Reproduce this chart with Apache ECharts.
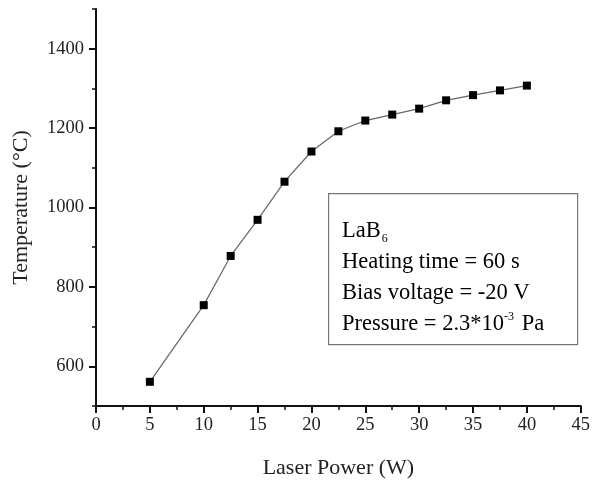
<!DOCTYPE html>
<html>
<head>
<meta charset="utf-8">
<script src="https://cdn.jsdelivr.net/npm/echarts@6/dist/echarts.min.js"></script>
<style>
  html, body { margin: 0; padding: 0; background: #fff; }
  #chart { width: 593px; height: 484px; }
</style>
</head>
<body>
<div id="chart"></div>
<script>
// Laser power (W) and resulting LaB6 temperature (°C)
const laserPower = [5, 10, 12.5, 15, 17.5, 20, 22.5, 25, 27.5, 30, 32.5, 35, 37.5, 40];
const temperature = [561, 754, 878, 969, 1065, 1141, 1192, 1219, 1234, 1249, 1270, 1283, 1295, 1307];

// Labelled (major) ticks
const xTicks = [0, 5, 10, 15, 20, 25, 30, 35, 40, 45];
const yTicks = [600, 800, 1000, 1200, 1400];

const FONT = '"Liberation Serif", "DejaVu Serif", serif';
const INK = '#111';

const chart = echarts.init(document.getElementById('chart'), null, { renderer: 'canvas' });

chart.setOption({
  animation: false,
  backgroundColor: '#fff',
  grid: { left: 96, right: 10, top: 9, bottom: 78, containLabel: false },
  xAxis: {
    type: 'value',
    min: xTicks[0],
    max: xTicks[xTicks.length - 1],
    interval: 5,
    name: 'Laser Power (W)',
    nameLocation: 'middle',
    nameGap: 51,
    nameTextStyle: { color: '#222', fontFamily: FONT, fontSize: 22 },
    axisLine: { show: true, onZero: false, lineStyle: { color: INK, width: 2 } },
    axisTick: { show: true, inside: false, length: 7, lineStyle: { color: INK, width: 2 } },
    minorTick: { show: true, splitNumber: 2, length: 4, lineStyle: { color: INK, width: 1.5 } },
    splitLine: { show: false },
    axisLabel: { color: '#222', fontFamily: FONT, fontSize: 18.5, margin: 10, formatter: v => String(v) }
  },
  yAxis: [
    {
      // main axis: labelled ticks every 200
      type: 'value',
      min: 500,
      max: 1500,
      name: 'Temperature (°C)',
      nameLocation: 'middle',
      nameGap: 64,
      nameTextStyle: { color: '#222', fontFamily: FONT, fontSize: 22 },
      axisLine: { show: true, onZero: false, lineStyle: { color: INK, width: 2 } },
      axisTick: { show: true, inside: false, length: 7, customValues: yTicks, lineStyle: { color: INK, width: 2 } },
      splitLine: { show: false },
      axisLabel: {
        color: '#222', fontFamily: FONT, fontSize: 18.5, margin: 12,
        customValues: yTicks, formatter: v => String(v)
      }
    },
    {
      // overlay carrying the short ticks every 100
      type: 'value',
      position: 'left',
      min: 500,
      max: 1500,
      interval: 100,
      axisLine: { show: false, onZero: false },
      axisTick: { show: true, inside: false, length: 4, lineStyle: { color: INK, width: 1.5 } },
      splitLine: { show: false },
      axisLabel: { show: false }
    }
  ],
  series: [{
    type: 'line',
    yAxisIndex: 0,
    data: laserPower.map((p, i) => [p, temperature[i]]),
    symbol: 'rect',
    symbolSize: 8,
    itemStyle: { color: '#000' },
    lineStyle: { color: '#666', width: 1.2 }
  }],
  graphic: [
    {
      type: 'rect',
      left: 328, top: 193,
      shape: { width: 249, height: 151 },
      style: { fill: '#fff', stroke: '#777', lineWidth: 1.2 },
      z: 10
    },
    {
      type: 'text',
      left: 342, top: 217,
      z: 11,
      style: {
        text: [
          '{t|LaB}{sub|6}',
          '{t|Heating time = 60 s}',
          '{t|Bias voltage = -20 V}',
          '{t|Pressure = 2.3*10}{sup|-3}{t| Pa}'
        ].join('\n'),
        rich: {
          t: { fontFamily: FONT, fontSize: 22.5, color: '#222', lineHeight: 31 },
          sub: { fontFamily: FONT, fontSize: 12, color: '#222', lineHeight: 31, padding: [16, 0, 0, 1] },
          sup: { fontFamily: FONT, fontSize: 12, color: '#222', lineHeight: 31, padding: [0, 2, 14, 0] }
        }
      }
    }
  ]
});
</script>
</body>
</html>
